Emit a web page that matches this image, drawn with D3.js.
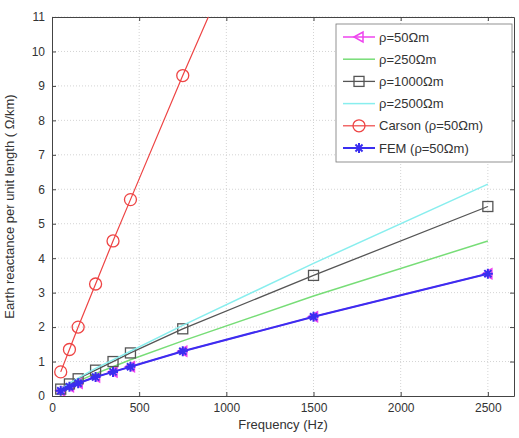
<!DOCTYPE html>
<html>
<head>
<meta charset="utf-8">
<script src="https://cdn.jsdelivr.net/npm/d3@7"></script>
<style>
  body { margin: 0; background: #fff; }
  text { font-family: "Liberation Sans", Arial, sans-serif; }
</style>
</head>
<body>
<div id="chart"></div>
<script>
// ------------------------------
// Data
// ------------------------------
const frequencies = [50, 100, 150, 250, 350, 450, 750, 1500, 2500];
const rho50 = [0.15, 0.27, 0.37, 0.55, 0.7, 0.85, 1.3, 2.3, 3.55];
const rho250 = [0.18, 0.31, 0.43, 0.65, 0.85, 1.05, 1.6, 2.9, 4.5];
const rho1000 = [0.2, 0.35, 0.5, 0.75, 1.0, 1.25, 1.95, 3.5, 5.5];
const rho2500 = [0.21, 0.37, 0.52, 0.8, 1.05, 1.3, 2.05, 3.85, 6.15];
const carson50 = [0.7, 1.35, 2.0, 3.25, 4.5, 5.7, 9.3, 18.0, 29.0];
const fem50 = [0.15, 0.27, 0.37, 0.55, 0.7, 0.85, 1.3, 2.3, 3.55];

const xTicks = [0, 500, 1000, 1500, 2000, 2500];
const yTicks = [0, 1, 2, 3, 4, 5, 6, 7, 8, 9, 10, 11];

const series = [
  { name: "ρ=50Ωm", values: rho50, color: "#ee44ee", marker: "triLeft", width: 1.5 },
  { name: "ρ=250Ωm", values: rho250, color: "#77dd77", marker: null, width: 1.5 },
  { name: "ρ=1000Ωm", values: rho1000, color: "#555555", marker: "square", width: 1.3 },
  { name: "ρ=2500Ωm", values: rho2500, color: "#88eeee", marker: null, width: 1.5 },
  { name: "Carson (ρ=50Ωm)", values: carson50, color: "#ee4444", marker: "circle", width: 1.2 },
  { name: "FEM (ρ=50Ωm)", values: fem50, color: "#3a2ef0", marker: "star", width: 2 },
];

// ------------------------------
// Layout
// ------------------------------
const width = 519;
const height = 438;
const margin = { top: 17, right: 5, bottom: 42, left: 52 };

const svg = d3.select("#chart").append("svg").attr("width", width).attr("height", height);

const x = d3.scaleLinear().domain([0, 2650]).range([margin.left, width - margin.right]);
const y = d3.scaleLinear().domain([0, 11]).range([height - margin.bottom, margin.top]);

svg.append("defs").append("clipPath").attr("id", "plotClip")
  .append("rect")
  .attr("x", margin.left).attr("y", margin.top)
  .attr("width", width - margin.left - margin.right)
  .attr("height", height - margin.top - margin.bottom);

// Grid lines (dotted, MATLAB style)
const grid = svg.append("g").attr("stroke", "#d4d4d4").attr("stroke-dasharray", "1,2");
grid.selectAll(".gx").data(xTicks.slice(1)).join("line")
  .attr("x1", (d) => x(d)).attr("x2", (d) => x(d))
  .attr("y1", y(0)).attr("y2", y(11));
grid.selectAll(".gy").data(yTicks.slice(1)).join("line")
  .attr("x1", x(0)).attr("x2", x(2650))
  .attr("y1", (d) => y(d)).attr("y2", (d) => y(d));

// Axes with inward ticks
const axisStyle = (g) => {
  g.select(".domain").attr("stroke", "#444");
  g.selectAll(".tick line").attr("stroke", "#444");
  g.selectAll(".tick text").attr("fill", "#333").attr("font-size", 12);
};
svg.append("g")
  .attr("transform", `translate(0,${y(0)})`)
  .call(d3.axisBottom(x).tickValues(xTicks).tickFormat(d3.format("d")).tickSize(-4).tickPadding(7).tickSizeOuter(0))
  .call(axisStyle);
svg.append("g")
  .attr("transform", `translate(${x(0)},0)`)
  .call(d3.axisLeft(y).tickValues(yTicks).tickFormat(d3.format("d")).tickSize(-4).tickPadding(7).tickSizeOuter(0))
  .call(axisStyle);
// top and right box edges with ticks
svg.append("g")
  .attr("transform", `translate(0,${y(11)})`)
  .call(d3.axisTop(x).tickValues(xTicks).tickSize(-4).tickFormat("").tickSizeOuter(0))
  .call(axisStyle);
svg.append("g")
  .attr("transform", `translate(${x(2650)},0)`)
  .call(d3.axisRight(y).tickValues(yTicks).tickSize(-4).tickFormat("").tickSizeOuter(0))
  .call(axisStyle);

// Axis labels
svg.append("text")
  .attr("x", (x(0) + x(2650)) / 2).attr("y", 429)
  .attr("text-anchor", "middle").attr("font-size", 13).attr("fill", "#333")
  .text("Frequency (Hz)");
svg.append("text")
  .attr("transform", `translate(14,${(y(0) + y(11)) / 2}) rotate(-90)`)
  .attr("text-anchor", "middle").attr("font-size", 13).attr("fill", "#333")
  .text("Earth reactance per unit length ( Ω/km)");

// ------------------------------
// Markers
// ------------------------------
function drawMarker(g, type, cx, cy, color) {
  if (type === "triLeft") {
    g.append("path")
      .attr("d", `M${cx - 5},${cy} L${cx + 4},${cy - 5} L${cx + 4},${cy + 5} Z`)
      .attr("fill", "none").attr("stroke", color).attr("stroke-width", 1.5);
  } else if (type === "square") {
    g.append("rect")
      .attr("x", cx - 5).attr("y", cy - 5).attr("width", 10).attr("height", 10)
      .attr("fill", "none").attr("stroke", color).attr("stroke-width", 1.3);
  } else if (type === "circle") {
    g.append("circle")
      .attr("cx", cx).attr("cy", cy).attr("r", 6)
      .attr("fill", "none").attr("stroke", color).attr("stroke-width", 1.3);
  } else if (type === "star") {
    const r = 5;
    const d = [0, 45, 90, 135].map((a) => {
      const rad = (a * Math.PI) / 180;
      const dx = r * Math.cos(rad), dy = r * Math.sin(rad);
      return `M${cx - dx},${cy - dy} L${cx + dx},${cy + dy}`;
    }).join(" ");
    g.append("path").attr("d", d).attr("stroke", color).attr("stroke-width", 2);
  }
}

// ------------------------------
// Series
// ------------------------------
const plot = svg.append("g").attr("clip-path", "url(#plotClip)");
const line = d3.line().x((d) => x(d[0])).y((d) => y(d[1]));

series.forEach((s) => {
  const pts = frequencies.map((f, i) => [f, s.values[i]]);
  plot.append("path")
    .attr("d", line(pts))
    .attr("fill", "none").attr("stroke", s.color).attr("stroke-width", s.width);
  if (s.marker) {
    const mg = plot.append("g");
    pts.forEach((p) => drawMarker(mg, s.marker, x(p[0]), y(p[1]), s.color));
  }
});

// ------------------------------
// Legend
// ------------------------------
const legend = svg.append("g");
legend.append("rect")
  .attr("x", 336).attr("y", 24).attr("width", 176).attr("height", 138)
  .attr("fill", "#fff").attr("stroke", "#777").attr("stroke-width", 0.8);

series.forEach((s, i) => {
  const ly = 37 + i * 22.2;
  legend.append("line")
    .attr("x1", 343).attr("x2", 375).attr("y1", ly).attr("y2", ly)
    .attr("stroke", s.color).attr("stroke-width", s.width);
  if (s.marker) drawMarker(legend, s.marker, 359, ly, s.color);
  legend.append("text")
    .attr("x", 379).attr("y", ly + 4.5)
    .attr("font-size", 13).attr("fill", "#333")
    .text(s.name);
});
</script>
</body>
</html>
